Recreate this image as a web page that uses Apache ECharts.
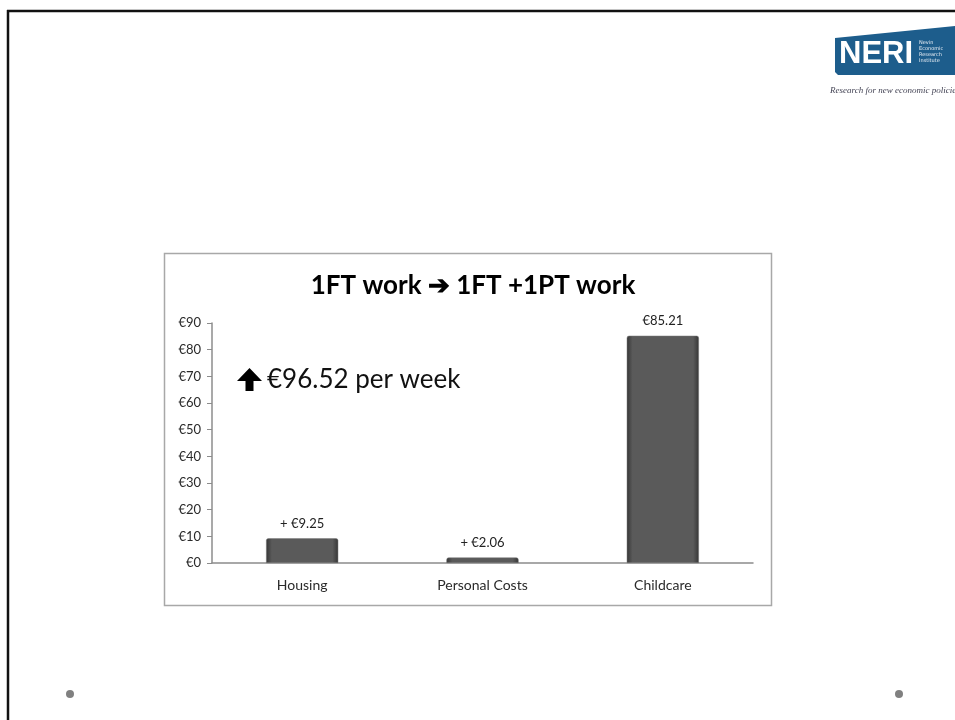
<!DOCTYPE html>
<html>
<head>
<meta charset="utf-8">
<script src="https://cdn.jsdelivr.net/npm/echarts@6/dist/echarts.min.js"></script>
<style>
html,body{margin:0;padding:0;background:#fff;}
#chart{width:955px;height:720px;}
</style>
</head>
<body>
<div id="chart"></div>
<script>
const categories = ['Housing', 'Personal Costs', 'Childcare'];
const values = [9.25, 2.06, 85.21];
const labelPrefixes = ['+ ', '+ ', ''];
const yTicks = [0, 10, 20, 30, 40, 50, 60, 70, 80, 90];
const chartTitle = '1FT work \u2794 1FT +1PT work';
const annotation = '\u20AC96.52 per week';

const FONT = 'Lato, "Open Sans", sans-serif';
const chart = echarts.init(document.getElementById('chart'), null, {renderer: 'canvas'});

const barColor = new echarts.graphic.LinearGradient(0, 0, 1, 0, [
  {offset: 0, color: '#353535'},
  {offset: 0.08, color: '#5a5a5a'},
  {offset: 0.92, color: '#5a5a5a'},
  {offset: 1, color: '#353535'}
]);

chart.setOption({
  backgroundColor: '#ffffff',
  animation: false,
  grid: {left: 212, right: 202, top: 323, bottom: 157, containLabel: false},
  xAxis: {
    type: 'category',
    data: categories,
    axisLine: {lineStyle: {color: '#8c8c8c', width: 1.5}},
    axisTick: {show: false},
    axisLabel: {color: '#2a2a2a', fontFamily: FONT, fontSize: 14, margin: 15}
  },
  yAxis: {
    type: 'value',
    min: yTicks[0],
    max: yTicks[yTicks.length - 1],
    interval: yTicks[1] - yTicks[0],
    splitLine: {show: false},
    axisLine: {show: true, lineStyle: {color: '#8c8c8c', width: 1.5}},
    axisTick: {show: true, length: 5, lineStyle: {color: '#8c8c8c'}},
    axisLabel: {color: '#2a2a2a', fontFamily: FONT, fontSize: 13, margin: 11,
      formatter: v => '\u20AC' + v}
  },
  series: [{
    type: 'bar',
    data: values,
    barWidth: '40%',
    itemStyle: {color: barColor, borderColor: '#777', borderWidth: 0.5, borderRadius: [2, 2, 0, 0]},
    label: {
      show: true, position: 'top', distance: 8,
      color: '#222', fontFamily: FONT, fontSize: 13,
      formatter: p => labelPrefixes[p.dataIndex] + '\u20AC' + p.value.toFixed(2)
    }
  }],
  graphic: [
    {type: 'line', shape: {x1: 7, y1: 11, x2: 955, y2: 11}, style: {stroke: '#111', lineWidth: 2.5}, silent: true},
    {type: 'line', shape: {x1: 8, y1: 10, x2: 8, y2: 720}, style: {stroke: '#111', lineWidth: 2.5}, silent: true},
    {type: 'circle', shape: {cx: 70, cy: 694, r: 4}, style: {fill: '#808080'}, silent: true},
    {type: 'circle', shape: {cx: 899, cy: 694, r: 4}, style: {fill: '#808080'}, silent: true},
    {type: 'rect', shape: {x: 164.5, y: 253.5, width: 607, height: 352}, style: {fill: 'none', stroke: '#a8a8a8', lineWidth: 1.5}, z: -1, silent: true},
    {type: 'text', x: 473, y: 286, style: {text: chartTitle, fill: '#000', font: 'bold 26px ' + FONT, textAlign: 'center', textVerticalAlign: 'middle'}, silent: true},
    {type: 'polygon', shape: {points: [[237, 381], [249.5, 368], [262, 381], [253.5, 381], [253.5, 391], [245.5, 391], [245.5, 381]]}, style: {fill: '#000'}, silent: true},
    {type: 'text', x: 267, y: 380, style: {text: annotation, fill: '#111', font: '26px ' + FONT, textAlign: 'left', textVerticalAlign: 'middle'}, silent: true},
    {type: 'polygon', shape: {points: [[835, 38], [955, 26], [955, 75], [838, 75], [835, 72]]}, style: {fill: '#1d5d8c'}, silent: true},
    {type: 'text', x: 839, y: 54, style: {text: 'NERI', fill: '#fff', font: 'bold 31px "Liberation Sans", sans-serif', textAlign: 'left', textVerticalAlign: 'middle'}, silent: true},
    {type: 'text', x: 919, y: 52, style: {text: 'Nevin\nEconomic\nResearch\nInstitute', fill: '#e8eef5', font: '5px "DejaVu Sans", sans-serif', lineHeight: 6, textAlign: 'left', textVerticalAlign: 'middle'}, silent: true},
    {type: 'text', x: 830, y: 91, style: {text: 'Research for new economic policies', fill: '#445', font: 'italic 9px "Liberation Serif", serif', textAlign: 'left', textVerticalAlign: 'middle'}, silent: true}
  ]
});
</script>
</body>
</html>
